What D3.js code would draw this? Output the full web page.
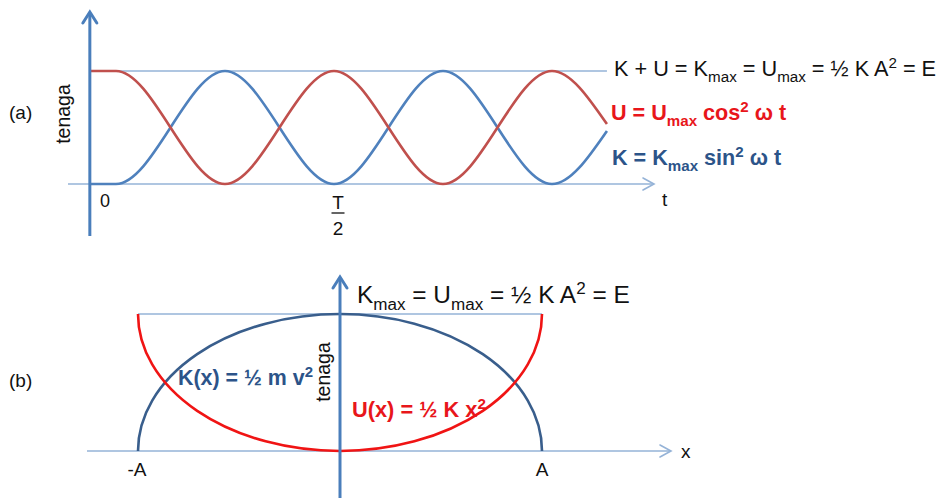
<!DOCTYPE html>
<html>
<head>
<meta charset="utf-8">
<script src="https://cdn.jsdelivr.net/npm/d3@7"></script>
<style>
  html, body { margin: 0; padding: 0; background: #fff; }
  svg { display: block; font-family: "Liberation Sans", Arial, sans-serif; }
</style>
</head>
<body>
<svg id="chart" width="941" height="498"></svg>
<script>
// ---- (a) energy vs time: extreme points of K and U, t in units of the period T, energy in units of E
const timeKnots   = [-0.06, 0, 0.25, 0.5, 0.75, 1.0, 1.126];
const kineticT    = [0, 0, 1, 0, 1, 0, 0.47];
const potentialT  = [1, 1, 0, 1, 0, 1, 0.53];
const timeTicks   = [{ t: 0, label: "0" }, { t: 0.5, num: "T", den: "2" }];

// ---- (b) energy vs displacement: x in units of amplitude A
const posTicks    = [{ x: -1, label: "-A" }, { x: 1, label: "A" }];
const energyLevel = 1;

// ---- rich text labels: [text, "sub" | "sup" | undefined]
const labelTotalA = [["K + U = K"], ["max", "sub"], [" = U"], ["max", "sub"], [" = ½ K A"], ["2", "sup"], [" = E"]];
const labelU_A    = [["U = U"], ["max", "sub"], [" cos"], ["2", "sup"], [" ω t"]];
const labelK_A    = [["K = K"], ["max", "sub"], [" sin"], ["2", "sup"], [" ω t"]];
const labelTotalB = [["K"], ["max", "sub"], [" = U"], ["max", "sub"], [" = ½ K A"], ["2", "sup"], [" = E"]];
const labelK_B    = [["K(x) = ½ m v"], ["2", "sup"]];
const labelU_B    = [["U(x) = ½ K x"], ["2", "sup"]];

const svg = d3.select("#chart");

const AXIS_BLUE = "#4a7ebb", THIN_BLUE = "#95b3d7";
const WAVE_BLUE = "#4f81bd", WAVE_RED = "#c0504d";
const ARC_BLUE = "#395e8c", ARC_RED = "#f01414";
const TXT_BLUE = "#2c5489", TXT_RED = "#e8161b";

function richText(g, parts, x, y, size, opts = {}) {
  const t = g.append("text").attr("x", x).attr("y", y)
    .attr("font-size", size)
    .attr("fill", opts.fill || "#111")
    .attr("font-weight", opts.bold ? "bold" : null);
  let shift = 0;
  parts.forEach(([str, kind]) => {
    const target = kind === "sub" ? size * 0.28 : kind === "sup" ? -size * 0.36 : 0;
    t.append("tspan")
      .attr("dy", target - shift)
      .attr("font-size", kind ? size * 0.7 : size)
      .text(str);
    shift = target;
  });
  return t;
}

function chevron(g, tip, dir, len, half, color, width) {
  const [x, y] = tip;
  const pts = dir === "up"
    ? [[x - half, y + len], [x, y], [x + half, y + len]]
    : [[x - len, y - half], [x, y], [x - len, y + half]];
  g.append("path").attr("d", d3.line()(pts))
    .attr("fill", "none").attr("stroke", color).attr("stroke-width", width)
    .attr("stroke-linejoin", "miter").attr("stroke-linecap", "round");
}

// =================== (a) ===================
const gA = svg.append("g");
const xT = d3.scaleLinear().domain([0, 1]).range([116, 552]);
const yT = d3.scaleLinear().domain([0, 1]).range([184, 71]);

// energy level line
gA.append("line")
  .attr("x1", xT(timeKnots[0])).attr("x2", xT(timeKnots[timeKnots.length - 1]))
  .attr("y1", yT(1)).attr("y2", yT(1))
  .attr("stroke", THIN_BLUE).attr("stroke-width", 1.4);

// time axis
gA.append("line").attr("x1", 68).attr("x2", 654).attr("y1", yT(0)).attr("y2", yT(0))
  .attr("stroke", THIN_BLUE).attr("stroke-width", 1.6);
chevron(gA, [654, yT(0)], "right", 11, 6, THIN_BLUE, 1.6);

const waveLine = d3.line()
  .x((d, i) => xT(timeKnots[i]))
  .y(d => yT(d))
  .curve(d3.curveMonotoneX);

gA.append("path").attr("d", waveLine(kineticT))
  .attr("fill", "none").attr("stroke", WAVE_BLUE).attr("stroke-width", 2.6);
gA.append("path").attr("d", waveLine(potentialT))
  .attr("fill", "none").attr("stroke", WAVE_RED).attr("stroke-width", 2.6);

// energy axis
const axA = xT(timeKnots[0]);
gA.append("line").attr("x1", axA).attr("x2", axA).attr("y1", 236).attr("y2", 13)
  .attr("stroke", AXIS_BLUE).attr("stroke-width", 3);
chevron(gA, [axA, 12], "up", 11, 7, AXIS_BLUE, 3);

gA.append("text").attr("transform", `translate(${axA - 20},114) rotate(-90)`)
  .attr("text-anchor", "middle").attr("font-size", 19.5).attr("fill", "#111").text("tenaga");
gA.append("text").attr("x", 9).attr("y", 119).attr("font-size", 19).attr("fill", "#111").text("(a)");
gA.append("text").attr("x", 662).attr("y", 206).attr("font-size", 19).attr("fill", "#111").text("t");

// time ticks
timeTicks.forEach(d => {
  if (d.label) {
    gA.append("text").attr("x", xT(d.t) - 11).attr("y", 207)
      .attr("text-anchor", "middle").attr("font-size", 18).attr("fill", "#111").text(d.label);
  } else {
    const cx = xT(d.t) + 4;
    gA.append("text").attr("x", cx).attr("y", 209).attr("text-anchor", "middle")
      .attr("font-size", 19).attr("fill", "#111").text(d.num);
    gA.append("line").attr("x1", cx - 6.5).attr("x2", cx + 6.5).attr("y1", 213).attr("y2", 213)
      .attr("stroke", "#111").attr("stroke-width", 1.3);
    gA.append("text").attr("x", cx).attr("y", 235).attr("text-anchor", "middle")
      .attr("font-size", 19).attr("fill", "#111").text(d.den);
  }
});

richText(gA, labelTotalA, 614, 76, 21.7);
richText(gA, labelU_A, 611, 120, 21.6, { fill: TXT_RED, bold: true });
richText(gA, labelK_A, 612, 165, 21.6, { fill: TXT_BLUE, bold: true });

// =================== (b) ===================
const gB = svg.append("g");
const xB = d3.scaleLinear().domain([-1, 1]).range([138, 542]);
const yB = d3.scaleLinear().domain([0, 1]).range([451, 314]);

// energy level line
gB.append("line").attr("x1", xB(-1)).attr("x2", xB(1))
  .attr("y1", yB(energyLevel)).attr("y2", yB(energyLevel))
  .attr("stroke", THIN_BLUE).attr("stroke-width", 1.4);

// displacement axis
gB.append("line").attr("x1", 87).attr("x2", 671).attr("y1", yB(0)).attr("y2", yB(0))
  .attr("stroke", THIN_BLUE).attr("stroke-width", 1.6);
chevron(gB, [671, yB(0)], "right", 11, 6, THIN_BLUE, 1.6);

// half-ellipses spanning -A..A
const rx = xB(1) - xB(0), ry = yB(0) - yB(energyLevel);
const kArc = d3.path();
kArc.moveTo(xB(-1), yB(0));
const kd = kArc.toString() + ` A${rx},${ry} 0 0 1 ${xB(1)},${yB(0)}`;
const uArc = d3.path();
uArc.moveTo(xB(-1), yB(energyLevel));
const ud = uArc.toString() + ` A${rx},${ry} 0 0 0 ${xB(1)},${yB(energyLevel)}`;

gB.append("path").attr("d", kd).attr("fill", "none").attr("stroke", ARC_BLUE).attr("stroke-width", 2.6);
gB.append("path").attr("d", ud).attr("fill", "none").attr("stroke", ARC_RED).attr("stroke-width", 2.6);

// energy axis
const axB = xB(0);
gB.append("line").attr("x1", axB).attr("x2", axB).attr("y1", 498).attr("y2", 278)
  .attr("stroke", AXIS_BLUE).attr("stroke-width", 3);
chevron(gB, [axB, 277], "up", 11, 7, AXIS_BLUE, 3);

gB.append("text").attr("transform", `translate(${axB - 10},372) rotate(-90)`)
  .attr("text-anchor", "middle").attr("font-size", 19.5).attr("fill", "#111").text("tenaga");
gB.append("text").attr("x", 9).attr("y", 387).attr("font-size", 19).attr("fill", "#111").text("(b)");
gB.append("text").attr("x", 681).attr("y", 458).attr("font-size", 19).attr("fill", "#111").text("x");

posTicks.forEach(d => {
  gB.append("text").attr("x", xB(d.x) + (d.x < 0 ? -1 : 0)).attr("y", 476)
    .attr("text-anchor", "middle").attr("font-size", 19).attr("fill", "#111").text(d.label);
});

richText(gB, labelTotalB, 357, 303, 24.4);
richText(gB, labelK_B, 178, 385, 21.4, { fill: TXT_BLUE, bold: true });
richText(gB, labelU_B, 352, 417, 21.8, { fill: TXT_RED, bold: true });
</script>
</body>
</html>
